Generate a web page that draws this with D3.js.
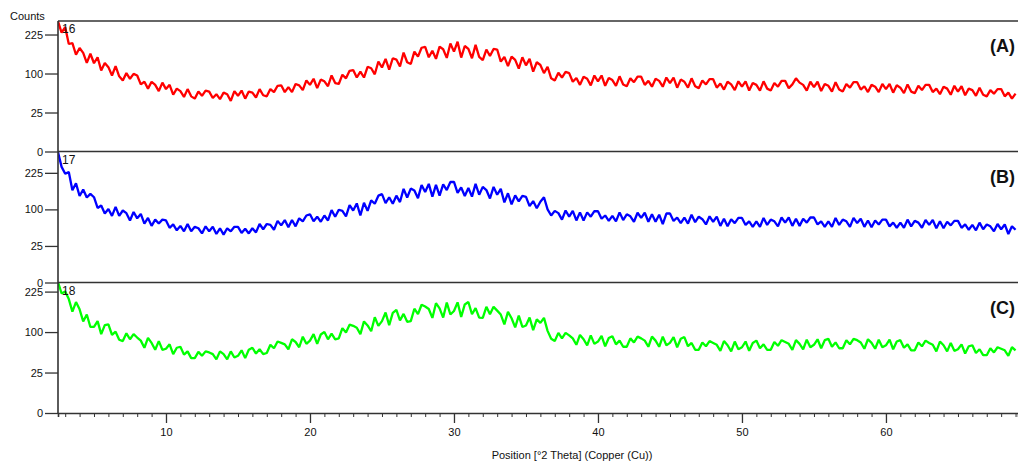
<!DOCTYPE html>
<html>
<head>
<meta charset="utf-8">
<script src="https://cdn.jsdelivr.net/npm/d3@7"></script>
<style>
  body { margin: 0; background: #fff; }
  text { font-family: "Liberation Sans", Arial, sans-serif; }
</style>
</head>
<body>
<svg width="1018" height="464"></svg>
<script>
// scan: 2.5 to 69 deg 2theta, step 0.25
const scanStart = 2.5;
const scanStep = 0.25;

const sampleNames = ["16", "17", "18"];
const panelLabels = ["(A)", "(B)", "(C)"];
const yTicks = [0, 25, 100, 225];
const xTicks = [10, 20, 30, 40, 50, 60];

const countsA = [
  278, 232,
  254, 190, 193, 154, 176, 160, 129, 157, 128, 146, 108, 129, 117, 95, 120, 93,
  83, 101, 87, 99, 95, 74, 80, 65, 80, 73, 60, 78, 64, 73, 53, 65,
  60, 49, 64, 50, 46, 59, 51, 61, 59, 47, 54, 45, 57, 54, 42, 60,
  51, 61, 46, 59, 57, 48, 64, 52, 50, 64, 58, 71, 72, 58, 68, 58,
  75, 72, 62, 83, 73, 87, 66, 85, 81, 70, 95, 77, 75, 97, 88, 107,
  109, 90, 105, 90, 118, 114, 98, 133, 116, 141, 110, 143, 139, 119, 161, 131,
  126, 164, 148, 177, 180, 146, 167, 141, 181, 172, 144, 192, 164, 198, 145, 183,
  173, 143, 187, 147, 137, 171, 150, 173, 171, 133, 147, 120, 148, 138, 113, 146,
  122, 141, 105, 131, 123, 101, 118, 88, 83, 102, 90, 104, 101, 80, 89, 73,
  92, 87, 72, 95, 81, 95, 71, 89, 84, 71, 93, 74, 70, 88, 79, 92,
  92, 73, 82, 69, 87, 82, 69, 90, 77, 90, 67, 85, 80, 67, 88, 70,
  66, 83, 74, 86, 86, 67, 76, 63, 80, 74, 62, 81, 69, 81, 61, 77,
  73, 61, 81, 65, 61, 77, 69, 82, 82, 66, 74, 88, 78, 73, 61, 80,
  68, 80, 60, 75, 71, 59, 79, 63, 59, 75, 67, 79, 79, 63, 70, 58,
  73, 69, 58, 75, 64, 75, 57, 72, 67, 56, 74, 59, 56, 71, 62, 73,
  73, 58, 65, 54, 69, 65, 53, 71, 59, 70, 52, 65, 62, 51, 67, 53,
  50, 62, 55, 64, 64, 50, 57, 46,
  55
];

const countsB = [
  318, 250,
  221, 228, 159, 184, 140, 162, 135, 147, 136, 104, 111, 89, 101, 83, 107, 83,
  97, 90, 72, 93, 77, 88, 65, 78, 60, 74, 65, 74, 72, 56, 63, 51,
  60, 49, 64, 49, 58, 55, 45, 59, 49, 58, 44, 55, 43, 55, 49, 58,
  58, 46, 54, 45, 55, 47, 64, 53, 64, 62, 52, 71, 61, 73, 57, 73,
  59, 77, 70, 84, 87, 70, 81, 69, 84, 72, 98, 81, 99, 96, 82, 112,
  97, 117, 84, 119, 96, 126, 116, 141, 146, 118, 136, 116, 141, 121, 164, 135,
  165, 158, 133, 178, 153, 182, 138, 178, 141, 180, 160, 189, 189, 150, 169, 140,
  167, 138, 182, 144, 171, 160, 132, 171, 144, 164, 120, 149, 114, 142, 123, 140,
  137, 109, 124, 103, 122, 136, 100, 84, 96, 90, 74, 97, 81, 96, 72, 92,
  72, 92, 81, 95, 95, 76, 84, 71, 83, 70, 92, 73, 87, 82, 69, 91,
  78, 91, 69, 87, 69, 86, 64, 89, 89, 71, 79, 66, 79, 65, 86, 68,
  81, 75, 63, 82, 69, 81, 60, 76, 59, 75, 66, 78, 78, 62, 70, 58,
  70, 58, 78, 62, 74, 70, 59, 79, 67, 79, 60, 76, 60, 76, 67, 79,
  79, 63, 70, 58, 70, 58, 78, 62, 74, 70, 58, 78, 66, 76, 58, 72,
  57, 72, 63, 74, 74, 59, 67, 56, 67, 56, 74, 59, 71, 67, 56, 73,
  62, 73, 55, 70, 55, 69, 61, 71, 71, 56, 63, 52, 62, 51, 67, 53,
  63, 59, 49, 64, 53, 63, 44, 59,
  52
];

const countsC = [
  262, 218,
  225, 198, 157, 188, 164, 128, 148, 113, 113, 129, 95, 118, 120, 93, 101, 82,
  79, 97, 83, 95, 87, 80, 65, 86, 75, 61, 79, 61, 63, 72, 53, 65,
  67, 52, 58, 46, 46, 57, 50, 58, 56, 53, 44, 58, 53, 44, 58, 47,
  50, 60, 46, 61, 65, 54, 62, 53, 55, 71, 64, 78, 75, 72, 62, 83,
  77, 66, 89, 73, 80, 95, 73, 94, 100, 83, 96, 83, 85, 110, 99, 119,
  116, 111, 95, 128, 117, 102, 140, 116, 129, 154, 118, 153, 162, 131, 150, 127,
  129, 166, 149, 179, 173, 165, 138, 184, 167, 139, 186, 148, 159, 187, 141, 180,
  188, 149, 168, 139, 138, 172, 149, 172, 160, 148, 120, 156, 137, 112, 145, 113,
  117, 139, 105, 134, 124, 138, 103, 84, 79, 98, 85, 98, 92, 85, 71, 93,
  83, 70, 92, 73, 78, 91, 68, 86, 90, 72, 80, 67, 67, 85, 76, 89,
  85, 80, 67, 89, 80, 67, 89, 70, 75, 88, 66, 84, 88, 68, 75, 61,
  61, 76, 68, 79, 75, 71, 59, 79, 70, 58, 78, 62, 66, 78, 59, 75,
  80, 64, 72, 61, 61, 77, 69, 81, 77, 73, 61, 81, 73, 62, 82, 66,
  71, 83, 64, 81, 84, 67, 76, 64, 64, 81, 72, 84, 81, 76, 63, 83,
  75, 63, 82, 66, 70, 82, 62, 78, 81, 65, 72, 60, 60, 76, 68, 80,
  75, 71, 58, 78, 70, 58, 75, 59, 62, 72, 54, 68, 70, 55, 62, 51,
  51, 64, 56, 66, 63, 60, 50, 66,
  60
];

const series = [countsA, countsB, countsC];
const colors = ["#ff0000", "#0000ff", "#00ff00"];

const width = 1018;
const height = 464;
const marginLeft = 58;
const panelTops = [21, 151.5, 282.5];
const panelBottoms = [151.5, 282.5, 413];
const panelMax = [280, 321, 260];

const svg = d3.select("svg").attr("width", width).attr("height", height);

const x = d3.scaleLinear([2.5, 69.17], [marginLeft, width]);

series.forEach((vals, p) => {
  const y = d3.scaleSqrt([0, panelMax[p]], [panelBottoms[p], panelTops[p]]);

  svg.append("clipPath").attr("id", "clip" + p)
    .append("rect")
    .attr("x", marginLeft).attr("y", panelTops[p])
    .attr("width", width - marginLeft).attr("height", panelBottoms[p] - panelTops[p]);

  const line = d3.line()
    .x((d, i) => x(scanStart + i * scanStep))
    .y(d => y(d));

  svg.append("path")
    .datum(vals)
    .attr("clip-path", `url(#clip${p})`)
    .attr("fill", "none")
    .attr("stroke", colors[p])
    .attr("stroke-width", 2.3)
    .attr("stroke-linejoin", "bevel")
    .attr("d", line);

  // y axis for this panel
  const gy = svg.append("g")
    .attr("transform", `translate(${marginLeft},0)`)
    .call(d3.axisLeft(y).tickValues(yTicks).tickSize(13).tickPadding(2).tickFormat(d3.format("d")));
  gy.select(".domain").remove();
  gy.selectAll(".tick line").attr("stroke", "#333").attr("stroke-width", 1.3);
  gy.selectAll(".tick text").attr("font-size", 11).attr("fill", "#111")
    .attr("font-family", "'Liberation Sans', Arial, sans-serif");

  // panel top border
  svg.append("line")
    .attr("x1", marginLeft).attr("x2", width)
    .attr("y1", panelTops[p]).attr("y2", panelTops[p])
    .attr("stroke", "#333").attr("stroke-width", 1.6);

  svg.append("text")
    .attr("x", 62).attr("y", panelTops[p] + 12)
    .attr("font-size", 12).attr("fill", "#111")
    .text(sampleNames[p]);

  svg.append("text")
    .attr("x", 1015).attr("y", panelTops[p] + 31)
    .attr("text-anchor", "end")
    .attr("font-size", 18).attr("font-weight", "bold").attr("fill", "#111")
    .text(panelLabels[p]);
});

// vertical axis line
svg.append("line")
  .attr("x1", marginLeft).attr("x2", marginLeft)
  .attr("y1", panelTops[0]).attr("y2", panelBottoms[2])
  .attr("stroke", "#333").attr("stroke-width", 1.6);

// x axis
const gx = svg.append("g")
  .attr("transform", `translate(0,${panelBottoms[2]})`)
  .call(d3.axisBottom(x).tickValues(d3.range(3, 70)).tickSize(4).tickFormat(""));
gx.select(".domain").attr("stroke", "#333").attr("stroke-width", 1.6);
gx.selectAll(".tick line").attr("stroke", "#333");

const gxMajor = svg.append("g")
  .attr("transform", `translate(0,${panelBottoms[2]})`)
  .call(d3.axisBottom(x).tickValues(xTicks).tickSize(10).tickPadding(5));
gxMajor.select(".domain").remove();
gxMajor.selectAll(".tick line").attr("stroke", "#333").attr("stroke-width", 1.3);
gxMajor.selectAll(".tick text").attr("font-size", 11).attr("fill", "#111")
  .attr("font-family", "'Liberation Sans', Arial, sans-serif");

svg.append("text")
  .attr("x", 10).attr("y", 20)
  .attr("font-size", 11).attr("fill", "#111")
  .text("Counts");

svg.append("text")
  .attr("x", 572).attr("y", 459)
  .attr("text-anchor", "middle")
  .attr("font-size", 11).attr("fill", "#111")
  .text("Position [°2 Theta] (Copper (Cu))");
</script>
</body>
</html>
